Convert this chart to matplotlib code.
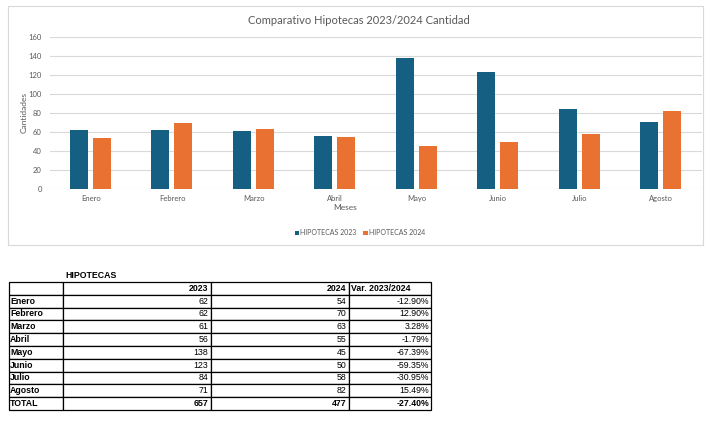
import numpy as np
import matplotlib
matplotlib.use("Agg")
import matplotlib.pyplot as plt
from matplotlib.patches import Rectangle

plt.rcParams['font.family'] = ['Lato', 'DejaVu Sans']

meses = ['Enero', 'Febrero', 'Marzo', 'Abril', 'Mayo', 'Junio', 'Julio', 'Agosto']
hip_2023 = [62, 62, 61, 56, 138, 123, 84, 71]
hip_2024 = [54, 70, 63, 55, 45, 50, 58, 82]
yticks = [0, 20, 40, 60, 80, 100, 120, 140, 160]

W, H = 721, 434
fig = plt.figure(figsize=(W / 100, H / 100), dpi=100)
fig.patch.set_facecolor('white')


def fr(x0, y0, x1, y1):
    # pixel box (top-left origin) -> figure fraction rect
    return [x0 / W, 1 - y1 / H, (x1 - x0) / W, (y1 - y0) / H]


# chart frame
fig.patches.append(Rectangle((8 / W, 1 - 245 / H), 695 / W, 239 / H,
                             transform=fig.transFigure, fill=False,
                             edgecolor='#d9d9d9', linewidth=0.8))

ax = fig.add_axes(fr(50, 37, 702, 189))
x = np.arange(len(meses))
bw = 0.22
ax.bar(x - 0.145, hip_2023, bw, color='#156082', label='HIPOTECAS 2023', zorder=3)
ax.bar(x + 0.135, hip_2024, bw, color='#E97132', label='HIPOTECAS 2024', zorder=3)
ax.set_xlim(-0.5, len(meses) - 0.5)
ax.set_ylim(0, 160)
ax.set_yticks(yticks)
ax.set_xticks(x)
ax.set_xticklabels(meses)
ax.grid(axis='y', color='#d9d9d9', linewidth=0.8, zorder=0)
for s in ax.spines.values():
    s.set_visible(False)
ax.tick_params(length=0, labelsize=5.5, labelcolor='#595959', pad=6)
ax.tick_params(axis='x', pad=4)

fig.text(359 / W, 1 - 20 / H, 'Comparativo Hipotecas 2023/2024 Cantidad',
         ha='center', va='center', fontsize=8, color='#595959')
fig.text(24 / W, 1 - 113 / H, 'Cantidades', rotation=90, ha='center',
         va='center', fontsize=6, color='#595959')
fig.text(345 / W, 1 - 207 / H, 'Meses', ha='center', va='center',
         fontsize=6, color='#595959')
fig.legend(loc='center', bbox_to_anchor=(360 / W, 1 - 233 / H), ncol=2,
           frameon=False, fontsize=5, handlelength=0.6, handleheight=0.6,
           handletextpad=0.2, columnspacing=1.0, labelcolor='#595959')

# table
tot23, tot24 = sum(hip_2023), sum(hip_2024)
rows = [['', '2023', '2024', 'Var. 2023/2024']]
for m, a, b in zip(meses, hip_2023, hip_2024):
    rows.append([m, str(a), str(b), f'{(b / a - 1) * 100:.2f}%'])
rows.append(['TOTAL', str(tot23), str(tot24), f'{(tot24 / tot23 - 1) * 100:.2f}%'])

fig.text(65 / W, 1 - 276 / H, 'HIPOTECAS', ha='left', va='center',
         fontsize=6.3, fontweight='bold', family='Liberation Sans')

tax = fig.add_axes(fr(9, 282, 431, 410))
tax.axis('off')
widths = np.array([54, 148, 138, 82], dtype=float)
tbl = tax.table(cellText=rows, colWidths=list(widths / widths.sum()),
                bbox=[0, 0, 1, 1], cellLoc='right')
tbl.auto_set_font_size(False)
for (r, c), cell in tbl.get_celld().items():
    cell.set_linewidth(0.9)
    cell.set_edgecolor('black')
    t = cell.get_text()
    t.set_fontsize(6.3)
    t.set_family('Liberation Sans')
    cell.PAD = 0.02
    if c == 0 or (r == 0 and c == 3):
        cell._loc = 'left'
        t.set_ha('left')
    if c == 0 or r == 0 or r == len(rows) - 1:
        t.set_fontweight('bold')

fig.savefig('out.png', dpi=100)
